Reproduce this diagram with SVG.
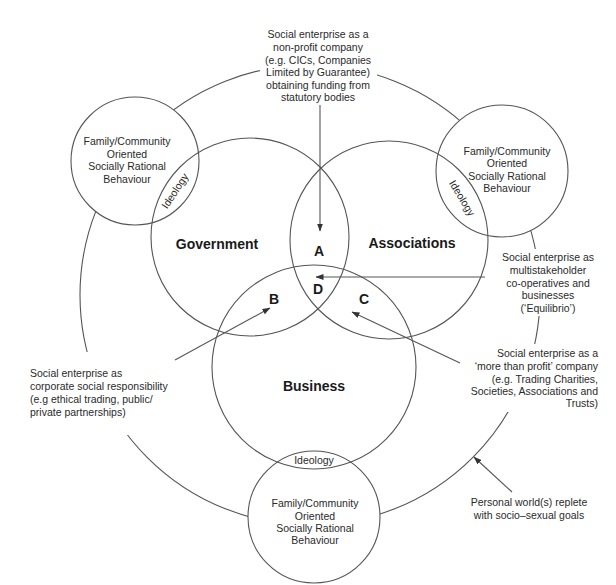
<svg xmlns="http://www.w3.org/2000/svg" width="616" height="585" viewBox="0 0 616 585">
<style>
.ln{fill:none;stroke:#555;stroke-width:1.1}
.sm{fill:#fff;stroke:#555;stroke-width:1.1}
.t{font-family:"Liberation Sans",Arial,sans-serif;font-size:10.5px;fill:#2a2a2a}
.c{text-anchor:middle}
.r{text-anchor:end}
.b{font-family:"Liberation Sans",Arial,sans-serif;font-size:14px;font-weight:bold;fill:#1a1a1a;text-anchor:middle}
.mask{fill:#fff;stroke:none}
.ar{fill:none;stroke:#555;stroke-width:1.1;marker-end:url(#ah)}
</style>
<defs>
<marker id="ah" markerWidth="8" markerHeight="6" refX="7.5" refY="3" orient="auto" markerUnits="userSpaceOnUse">
<path d="M0,0 L8,3 L0,6 z" fill="#333"/>
</marker>
</defs>
<rect width="616" height="585" fill="#fff"/>
<g id="personal-world">
<circle class="ln" cx="310" cy="295" r="230"/>
</g>
<g id="text-masks">
<rect class="mask" x="260" y="26" width="117" height="78"/>
<rect class="mask" x="498" y="249" width="102" height="67"/>
<rect class="mask" x="465" y="344" width="140" height="68"/>
<rect class="mask" x="28" y="352" width="150" height="83"/>
</g>
<g id="family-left">
<circle class="sm" cx="135" cy="161" r="64"/>
<text class="t c" x="127" y="145">Family/Community</text>
<text class="t c" x="127" y="158">Oriented</text>
<text class="t c" x="127" y="170">Socially Rational</text>
<text class="t c" x="127" y="183">Behaviour</text>
</g>
<g id="family-right">
<circle class="sm" cx="502" cy="171" r="66"/>
<text class="t c" x="507" y="155">Family/Community</text>
<text class="t c" x="507" y="167">Oriented</text>
<text class="t c" x="507" y="180">Socially Rational</text>
<text class="t c" x="507" y="192">Behaviour</text>
</g>
<g id="family-bottom">
<circle class="sm" cx="314" cy="517" r="66"/>
<text class="t c" x="315" y="507">Family/Community</text>
<text class="t c" x="315" y="520">Oriented</text>
<text class="t c" x="315" y="532">Socially Rational</text>
<text class="t c" x="315" y="544">Behaviour</text>
</g>
<g id="government">
<circle class="ln" cx="250" cy="237" r="99"/>
<text class="b" x="217" y="249">Government</text>
</g>
<g id="associations">
<circle class="ln" cx="389" cy="240" r="99"/>
<text class="b" x="412" y="248">Associations</text>
</g>
<g id="business">
<circle class="ln" cx="314" cy="367" r="102"/>
<text class="b" x="314" y="391">Business</text>
</g>
<g id="ideology-labels">
<text class="t c" transform="translate(178,193) rotate(-56.5)">Ideology</text>
<text class="t c" transform="translate(459,200) rotate(58.6)">Ideology</text>
<text class="t c" x="314" y="464">Ideology</text>
</g>
<g id="regions">
<text class="b" x="319" y="256">A</text>
<text class="b" x="318" y="294">D</text>
<text class="b" x="274" y="304">B</text>
<text class="b" x="364" y="304">C</text>
</g>
<g id="label-nonprofit">
<text class="t c" x="318" y="38">Social enterprise as a</text>
<text class="t c" x="318" y="51">non-profit company</text>
<text class="t c" x="318" y="64">(e.g. CICs, Companies</text>
<text class="t c" x="318" y="76">Limited by Guarantee)</text>
<text class="t c" x="318" y="89">obtaining funding from</text>
<text class="t c" x="318" y="101">statutory bodies</text>
</g>
<g id="label-multistakeholder">
<text class="t c" x="548" y="261">Social enterprise as</text>
<text class="t c" x="548" y="274">multistakeholder</text>
<text class="t c" x="548" y="287">co-operatives and</text>
<text class="t c" x="548" y="299">businesses</text>
<text class="t c" x="548" y="312">(‘Equilibrio’)</text>
</g>
<g id="label-morethanprofit">
<text class="t r" x="598" y="357">Social enterprise as a</text>
<text class="t r" x="598" y="370">‘more than profit’ company</text>
<text class="t r" x="598" y="383">(e.g. Trading Charities,</text>
<text class="t r" x="598" y="395">Societies, Associations and</text>
<text class="t r" x="598" y="407">Trusts)</text>
</g>
<g id="label-csr">
<text class="t" x="30" y="377">Social enterprise as</text>
<text class="t" x="30" y="390">corporate social responsibility</text>
<text class="t" x="30" y="403">(e.g ethical trading, public/</text>
<text class="t" x="30" y="416">private partnerships)</text>
</g>
<g id="label-personal">
<text class="t c" x="529" y="506">Personal world(s) replete</text>
<text class="t c" x="529" y="519">with socio–sexual goals</text>
</g>
<g id="connectors">
<line class="ar" x1="320" y1="105" x2="320" y2="231"/>
<line class="ar" x1="485" y1="277" x2="316" y2="277"/>
<line class="ar" x1="175" y1="360" x2="270" y2="308"/>
<line class="ar" x1="460" y1="363" x2="352" y2="312"/>
<line class="ar" x1="512" y1="492" x2="474" y2="457"/>
</g>
</svg>
